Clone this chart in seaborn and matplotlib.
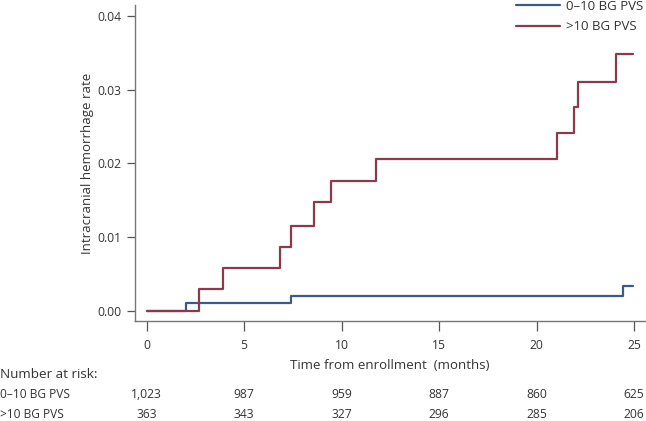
import matplotlib
matplotlib.use("Agg")
import matplotlib.pyplot as plt
import matplotlib.transforms as mtransforms
import seaborn as sns
import pandas as pd

# step curves (time in months, cumulative rate)
low_t = [0, 2.03, 7.39, 24.45, 24.95]
low_y = [0, 0.0010, 0.0020, 0.0034, 0.0034]
high_t = [0, 2.70, 3.89, 6.83, 7.41, 8.56, 9.48, 11.75, 21.06, 21.91, 22.15, 24.09, 24.95]
high_y = [0, 0.0029, 0.0058, 0.0086, 0.0115, 0.0147, 0.0176, 0.0206, 0.0241, 0.0276, 0.0311, 0.0349, 0.0349]

groups = ["0–10 BG PVS", ">10 BG PVS"]
colors = ["#3b5b86", "#8a3a4a"]

risk_times = [0, 5, 10, 15, 20, 25]
risk_low = ["1,023", "987", "959", "887", "860", "625"]
risk_high = ["363", "343", "327", "296", "285", "206"]

sns.set_style("ticks")
plt.rcParams["font.family"] = ["Open Sans", "DejaVu Sans"]

fig = plt.figure(figsize=(6.46, 4.21), dpi=100)
ax = fig.add_axes([0.209, 0.2375, 0.789, 0.7505])

df = pd.concat([
    pd.DataFrame({"t": low_t, "rate": low_y, "group": groups[0]}),
    pd.DataFrame({"t": high_t, "rate": high_y, "group": groups[1]}),
])
sns.lineplot(data=df, x="t", y="rate", hue="group", palette=colors,
             drawstyle="steps-post", linewidth=1.6, ax=ax)

ax.set_xlim(-0.6, 25.55)
ax.set_ylim(-0.0014, 0.0415)
ax.set_xticks(risk_times)
ax.set_yticks([0, 0.01, 0.02, 0.03, 0.04])
ax.set_yticklabels(["0.00", "0.01", "0.02", "0.03", "0.04"])
ax.set_xlabel("Time from enrollment  (months)", fontsize=9.5, color="#333333", labelpad=5)
ax.set_ylabel("Intracranial hemorrhage rate", fontsize=9.5, color="#333333", labelpad=3)
ax.tick_params(colors="#555555", labelcolor="#333333", labelsize=8.7, length=6, width=0.9)
ax.tick_params(axis="x", length=7, pad=6)
for s in ["left", "bottom"]:
    ax.spines[s].set_color("#777777")
    ax.spines[s].set_linewidth(1.0)
sns.despine(ax=ax)

ax.legend(frameon=False, loc="upper right", bbox_to_anchor=(643 / 646, 1.0),
          bbox_transform=fig.transFigure, borderaxespad=0, borderpad=0,
          fontsize=9.5, handlelength=3.3, handletextpad=0.45, labelspacing=0.55,
          labelcolor="#333333")

# number at risk table
tr = mtransforms.blended_transform_factory(ax.transData, fig.transFigure)
fig.text(0.0, 1 - 374 / 421, "Number at risk:", fontsize=9.7, color="#333333", va="center")
fig.text(0.0, 1 - 394 / 421, groups[0], fontsize=8.6, color="#333333", va="center")
fig.text(0.0, 1 - 414 / 421, groups[1], fontsize=8.6, color="#333333", va="center")
for t, a, b in zip(risk_times, risk_low, risk_high):
    ax.text(t, 1 - 394 / 421, a, transform=tr, fontsize=8.7, color="#333333", ha="center", va="center")
    ax.text(t, 1 - 414 / 421, b, transform=tr, fontsize=8.7, color="#333333", ha="center", va="center")

fig.savefig("out.png", dpi=100)
